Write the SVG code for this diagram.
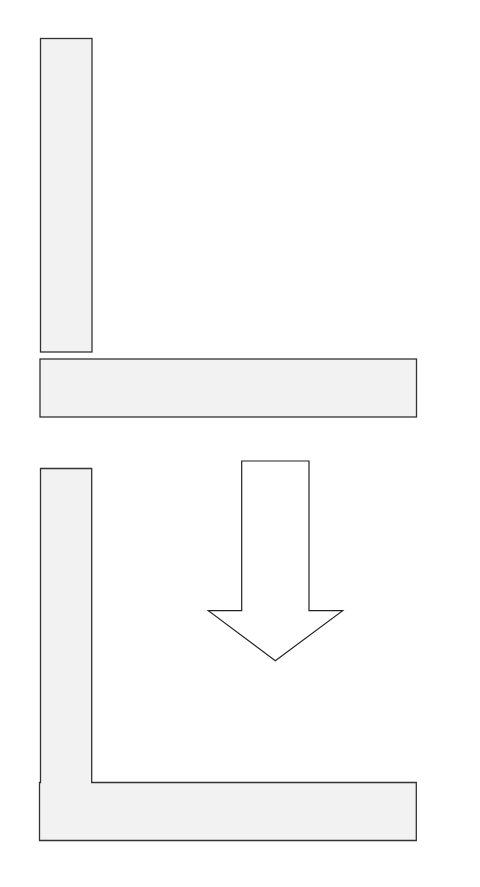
<svg xmlns="http://www.w3.org/2000/svg" width="480" height="887" viewBox="0 0 480 887">
<style>
.shape{fill:#f2f2f2;stroke:#333333;stroke-width:1.3}
.arrow{fill:#ffffff;stroke:#222222;stroke-width:1.2}
</style>
<rect width="480" height="887" fill="#ffffff"/>
<g id="top-vertical-bar"><rect class="shape" x="40.5" y="38.5" width="51.5" height="313.5"/></g>
<g id="top-horizontal-bar"><rect class="shape" x="40" y="359" width="376.5" height="58"/></g>
<g id="down-arrow"><path class="arrow" d="M241.7,461 H309 V610.7 H342.7 L275.3,660.7 L208.3,610.7 H241.7 Z"/></g>
<g id="bottom-l-shape"><path class="shape" d="M40.5,468.5 H91.7 V782.5 H416.3 V840.5 H39.5 V782.5 H40.5 Z"/></g>
</svg>
